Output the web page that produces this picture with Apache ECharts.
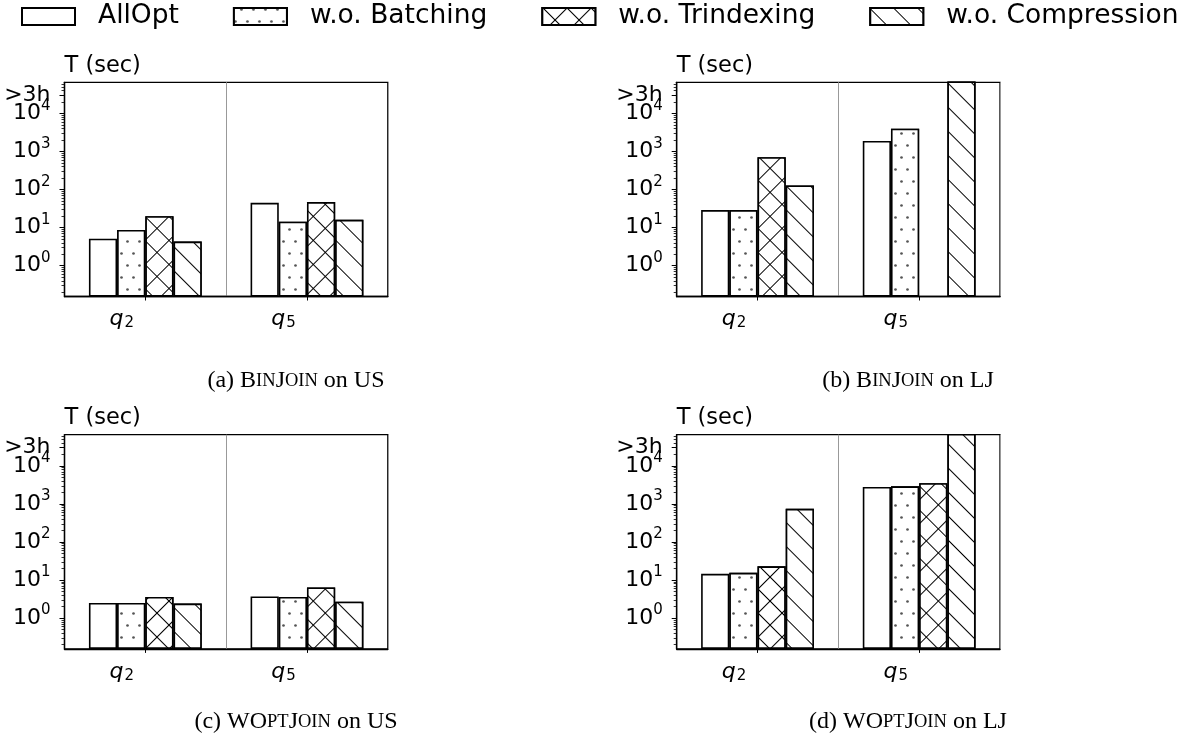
<!DOCTYPE html>
<html><head><meta charset="utf-8">
<script src="https://cdn.jsdelivr.net/npm/echarts@6/dist/echarts.min.js"></script>
<style>html,body{margin:0;padding:0;background:#fff}#c{width:1201px;height:742px}</style>
</head><body><div id="c"></div>
<script>
// ---------------- data ----------------
const methods = ['AllOpt', 'w.o. Batching', 'w.o. Trindexing', 'w.o. Compression'];
const queries = ['q2', 'q5'];
const OVER_3H = 100000;   // run did not finish within 3 h -> bar reaches the top of the axis
// runtime T (sec) per method, [q2, q5]
const binJoinUS  = [[5.1, 45],   [8.7, 14.3], [20, 47],    [4.3, 16]];
const binJoinLJ  = [[29, 1900],  [29, 4000],  [710, null], [129, OVER_3H]];
const wOptJoinUS = [[2.5, 3.7],  [2.5, 3.6],  [3.6, 6.4],  [2.4, 2.7]];
const wOptJoinLJ = [[14.6, 2800],[15.5, 2900],[23, 3500],  [745, OVER_3H]];
const yMajorTicks  = [1, 10, 100, 1000, 10000];
const yMajorLabels = ['10^0', '10^1', '10^2', '10^3', '10^4'];
const yTimeoutTick = [30000];
const yTimeoutLabel = '>3h';
const yMin = 0.155, yMax = 66000;
const captions = [
  '{n|(a) B}{sc|IN}{n|J}{sc|OIN}{n| on US}',
  '{n|(b) B}{sc|IN}{n|J}{sc|OIN}{n| on LJ}',
  '{n|(c) WO}{sc|PT}{n|J}{sc|OIN}{n| on US}',
  '{n|(d) WO}{sc|PT}{n|J}{sc|OIN}{n| on LJ}'
];
const panelData = [binJoinUS, binJoinLJ, wOptJoinUS, wOptJoinLJ];

// ---------------- layout / style ----------------
const layout = [
  {left: 64.5, top: 82.3, capX: 291, capY: 364},
  {left: 676.7, top: 82.3, capX: 903, capY: 364},
  {left: 64.5, top: 434.7, capX: 291, capY: 705},
  {left: 676.7, top: 434.7, capX: 903, capY: 705}
];
const GW = 323.3, GH = 214.2;
const FONT = 'DejaVu Sans';

const minorTicks = [];
for (let e = -1; e <= 4; e++) for (let k = 2; k <= 9; k++) minorTicks.push(k * Math.pow(10, e));

const crossRows = [[17, 0]];
for (let i = 0; i < 16; i++) crossRows.push([1, 16]);
const decals = [
  null,
  {symbol: 'circle', symbolSize: 0.9, dashArrayX: [[3, 9], [0, 6, 3, 3]], dashArrayY: [3, 9], color: '#555', backgroundColor: '#fff', rotation: 0},
  {symbol: 'rect', symbolSize: 1, dashArrayX: crossRows, dashArrayY: [1, 0], color: '#000', backgroundColor: '#fff', rotation: Math.PI / 4},
  {symbol: 'rect', symbolSize: 1, dashArrayX: [1, 0], dashArrayY: [1, 16], color: '#000', backgroundColor: '#fff', rotation: Math.PI / 4}
];
const labelRich = {
  b: {fontFamily: FONT, fontSize: 22, color: '#000', lineHeight: 30},
  s: {fontFamily: FONT, fontSize: 15, color: '#000', verticalAlign: 'top', lineHeight: 15}
};

const grids = [], xAxes = [], yAxes = [], series = [], titles = [];
layout.forEach((L, p) => {
  grids.push({left: L.left, top: L.top, width: GW, height: GH, show: true, borderColor: '#000', borderWidth: 1.3, backgroundColor: 'transparent'});
  xAxes.push({
    type: 'category', gridIndex: p, data: queries,
    axisLine: {show: true, lineStyle: {color: '#000', width: 1.3}},
    axisTick: {show: true, alignWithLabel: true, length: 4, lineStyle: {color: '#000', width: 1}},
    splitLine: {show: true, lineStyle: {color: '#999', width: 1}},
    axisLabel: {
      margin: 10, padding: [0, 47, 0, 0],
      formatter: v => '{q|q}{s|' + v.slice(1) + '}',
      rich: {
        q: {fontFamily: FONT, fontStyle: 'italic', fontSize: 22, color: '#000', lineHeight: 26},
        s: {fontFamily: FONT, fontSize: 15, color: '#000', padding: [8, 0, 0, 1]}
      }
    }
  });
  // major ticks + power-of-ten labels
  yAxes.push({
    type: 'log', logBase: 10, gridIndex: p, min: yMin, max: yMax, startValue: yMin, position: 'left',
    name: 'T (sec)', nameLocation: 'end', nameGap: 5,
    nameTextStyle: {fontFamily: FONT, fontSize: 22.5, color: '#000', align: 'left', verticalAlign: 'bottom'},
    axisLine: {show: true, lineStyle: {color: '#000', width: 1.3}},
    axisTick: {show: true, length: 5, customValues: yMajorTicks.concat(yTimeoutTick), lineStyle: {color: '#000', width: 1}},
    splitLine: {show: false},
    axisLabel: {
      margin: 14, customValues: yMajorTicks, showMaxLabel: true, showMinLabel: true, hideOverlap: false,
      formatter: v => {
        const i = yMajorTicks.findIndex(t => Math.abs(t - v) / t < 1e-6);
        if (i < 0) return '';
        const parts = yMajorLabels[i].split('^');
        return '{b|' + parts[0] + '}{s|' + parts[1] + '}';
      },
      rich: labelRich
    }
  });
  // minor ticks + ">3h" label
  yAxes.push({
    type: 'log', logBase: 10, gridIndex: p, min: yMin, max: yMax, position: 'left', offset: 0,
    axisLine: {show: false}, splitLine: {show: false},
    axisTick: {show: true, length: 3, customValues: minorTicks, lineStyle: {color: '#000', width: 0.8}},
    axisLabel: {
      show: true, margin: 14, customValues: yTimeoutTick, showMaxLabel: true, showMinLabel: true,
      formatter: () => '{b|' + yTimeoutLabel + '}', rich: labelRich
    }
  });
  methods.forEach((m, k) => {
    series.push({
      type: 'bar', name: m, xAxisIndex: p, yAxisIndex: 2 * p,
      data: panelData[p][k], barWidth: 28.2, barGap: '0%', clip: true, silent: true,
      itemStyle: Object.assign({color: '#fff', borderColor: '#000', borderWidth: 1.6}, decals[k] ? {decal: decals[k]} : {})
    });
  });
  titles.push({
    left: L.capX, top: L.capY, textAlign: 'center', text: captions[p],
    textStyle: {fontWeight: 'normal', rich: {
      n: {fontFamily: 'Liberation Serif', fontSize: 24, fontWeight: 'normal', color: '#000'},
      sc: {fontFamily: 'Liberation Serif', fontSize: 18.5, fontWeight: 'normal', color: '#000'}
    }}
  });
});

const chart = echarts.init(document.getElementById('c'), null, {renderer: 'canvas'});
chart.setOption({
  animation: false,
  backgroundColor: '#fff',
  textStyle: {fontFamily: FONT},
  title: titles,
  legend: {
    data: methods, left: 21, top: 3, padding: 0, icon: 'rect', itemWidth: 53, itemHeight: 17, itemGap: 54,
    textStyle: {fontFamily: FONT, fontSize: 26.5, color: '#000', padding: [0, 0, 0, 18]},
    selectedMode: false
  },
  grid: grids, xAxis: xAxes, yAxis: yAxes, series: series
});
</script></body></html>
